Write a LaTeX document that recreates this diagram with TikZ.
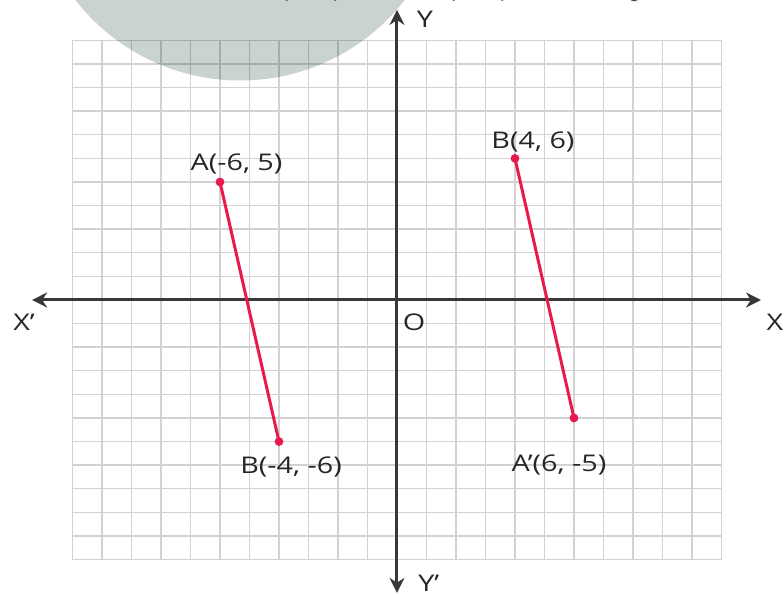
\documentclass[tikz,border=0pt]{standalone}
\usepackage{fontspec}
\setmainfont{Open Sans}
\newfontfamily\timesfont{Liberation Serif}
\usepackage{xcolor}
\usepackage{tikz}
\usetikzlibrary{arrows.meta}
\definecolor{gridgray}{HTML}{D2D2D2}
\definecolor{axisgray}{HTML}{383838}
\definecolor{segred}{HTML}{E8194D}
\definecolor{markgray}{HTML}{C9D3D0}
\tikzset{
  lbl/.style={font=\fontsize{11.5}{13}\selectfont,text=black!85,xscale=1.25,inner sep=0pt},
  cut/.style={font=\timesfont\fontsize{12}{14}\selectfont,text=black!80,xscale=1.25,inner sep=0pt,anchor=base west},
  dot/.style={circle,fill=segred,inner sep=0pt,minimum size=4.4pt},
}

\begin{document}
\begin{tikzpicture}[x=14.75pt,y=11.8pt,>={Stealth[length=7.5pt,width=7.5pt]}]
  \useasboundingbox (-13.458,-12.5) rectangle (13.119,12.712);
  \clip (-13.458,-12.5) rectangle (13.119,12.712);
  % grey disc and cut-off line of text at the top
  \fill[markgray] (-5.32,18.14) circle (104.3pt);
  \node[cut] (cut1) at (-4.03,12.88) {(\phantom{0}, \phantom{0})};
  \node[cut] (cut2) at (1.63,12.88) {(\phantom{0}, \phantom{0})};
  \node[cut] (cut3) at (7.9,12.88) {p};
  % squared paper
  \begin{scope}[blend mode=multiply]
    \draw[gridgray,line width=0.7pt,xstep=14.75pt,ystep=11.8pt] (-11,-11) grid (11,11);
  \end{scope}
  % axes
  \coordinate (xl) at (-12.37,0);
  \coordinate (xr) at (12.34,0);
  \coordinate (yt) at (0,12.29);
  \coordinate (yb) at (0,-12.41);
  \draw[axisgray,line width=1.5pt,<->] (xl) -- (xr);
  \draw[axisgray,line width=1.5pt,<->] (yb) -- (yt);
  \node[lbl] (xlab) at (12.81,-0.93) {X};
  \node[lbl] (xplab) at (-12.64,-0.93) {X’};
  \node[lbl] (ylab) at (0.95,11.9) {Y};
  \node[lbl] (yplab) at (1.08,-12.0) {Y’};
  \node[lbl] (olab) at (0.58,-0.93) {O};
  % the two segments
  \coordinate (A) at (-6,5);
  \coordinate (B) at (-4,-6);
  \coordinate (Bi) at (4,6);
  \coordinate (Ai) at (6,-5);
  \draw[segred,line width=1.5pt] (A) -- (B);
  \draw[segred,line width=1.5pt] (Bi) -- (Ai);
  \foreach \p in {A,B,Bi,Ai} \node[dot] (\p dot) at (\p) {};
  \node[lbl] (Alab) at (-5.44,5.76) {A(-6, 5)};
  \node[lbl] (Blab) at (-3.59,-7.08) {B(-4, -6)};
  \node[lbl] (Bilab) at (4.61,6.69) {B(4, 6)};
  \node[lbl] (Ailab) at (5.49,-6.99) {A’(6, -5)};
\end{tikzpicture}
\end{document}
